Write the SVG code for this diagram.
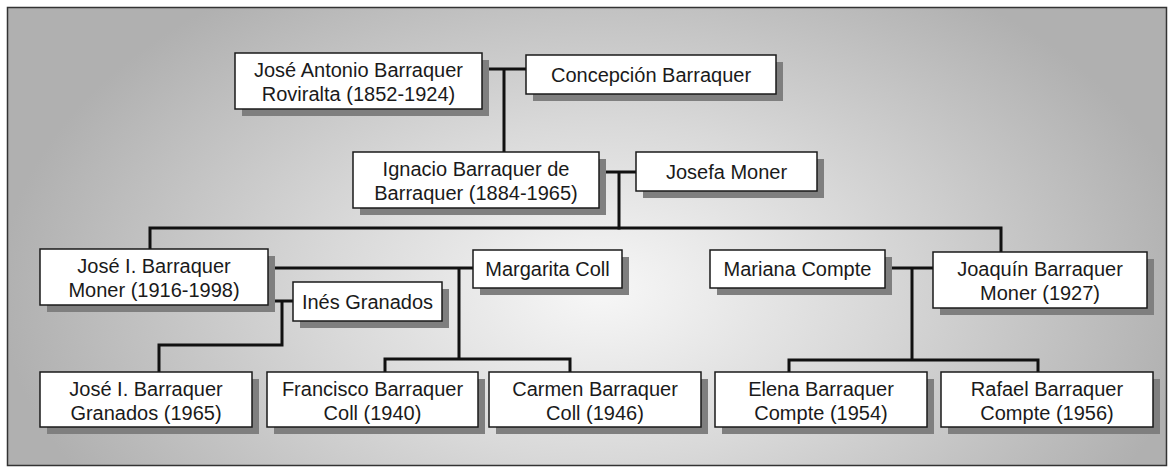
<svg xmlns="http://www.w3.org/2000/svg" width="1176" height="475" viewBox="0 0 1176 475">
  <defs>
    <radialGradient id="bg" gradientUnits="userSpaceOnUse" cx="600" cy="290" r="600" gradientTransform="translate(0 290) scale(1 0.62) translate(0 -290)">
      <stop offset="0" stop-color="#f7f7f7"/>
      <stop offset="0.45" stop-color="#d9d9d9"/>
      <stop offset="1" stop-color="#b0b0b0"/>
    </radialGradient>
    <style>
      .box { fill: #ffffff; stroke: #1a1a1a; stroke-width: 1.5; }
      .sh { fill: #7f7f7f; }
      .t { font-family: "Liberation Sans", Arial, sans-serif; font-size: 20px; fill: #1a1a1a; text-anchor: middle; }
      .ln { fill: none; stroke: #111111; stroke-width: 3; stroke-linecap: square; stroke-linejoin: miter; }
    </style>
  </defs>
  <rect x="0" y="0" width="1176" height="475" fill="#ffffff"/>
  <rect x="7.5" y="7.5" width="1159" height="458" fill="url(#bg)" stroke="#333333" stroke-width="1.5"/>

  <g id="connectors">
    <path class="ln" d="M482 69 H526 M504 69 V152"/>
    <path class="ln" d="M599 172 H636 M619 172 V228"/>
    <path class="ln" d="M150 249 V228 H1001 V252"/>
    <path class="ln" d="M268 268 H473 M459 268 V359 M385 372 V359 H570 V372"/>
    <path class="ln" d="M268 301 H293 M282 301 V345 H159 V372"/>
    <path class="ln" d="M885 268 H933 M912 268 V360 M789 372 V360 H1038 V372"/>
  </g>

  <g id="jose-antonio">
    <rect class="sh" x="242" y="60" width="247" height="56"/>
    <rect class="box" x="235" y="53" width="247" height="56"/>
    <text class="t" x="358.5" y="77">José Antonio Barraquer</text>
    <text class="t" x="358.5" y="101">Roviralta (1852-1924)</text>
  </g>
  <g id="concepcion">
    <rect class="sh" x="533" y="62" width="250" height="39"/>
    <rect class="box" x="526" y="55" width="250" height="39"/>
    <text class="t" x="651" y="81.5">Concepción Barraquer</text>
  </g>
  <g id="ignacio">
    <rect class="sh" x="360" y="159" width="246" height="56"/>
    <rect class="box" x="353" y="152" width="246" height="56"/>
    <text class="t" x="476" y="176">Ignacio Barraquer de</text>
    <text class="t" x="476" y="200">Barraquer (1884-1965)</text>
  </g>
  <g id="josefa">
    <rect class="sh" x="643" y="159" width="181" height="39"/>
    <rect class="box" x="636" y="152" width="181" height="39"/>
    <text class="t" x="726.5" y="178.5">Josefa Moner</text>
  </g>
  <g id="jose-i-moner">
    <rect class="sh" x="47" y="256" width="228" height="56"/>
    <rect class="box" x="40" y="249" width="228" height="56"/>
    <text class="t" x="154" y="273">José I. Barraquer</text>
    <text class="t" x="154" y="297">Moner (1916-1998)</text>
  </g>
  <g id="ines">
    <rect class="sh" x="300" y="289" width="149" height="39"/>
    <rect class="box" x="293" y="282" width="149" height="39"/>
    <text class="t" x="367.5" y="308.5">Inés Granados</text>
  </g>
  <g id="margarita">
    <rect class="sh" x="480" y="257" width="149" height="38"/>
    <rect class="box" x="473" y="250" width="149" height="38"/>
    <text class="t" x="547.5" y="276">Margarita Coll</text>
  </g>
  <g id="mariana">
    <rect class="sh" x="717" y="257" width="175" height="38"/>
    <rect class="box" x="710" y="250" width="175" height="38"/>
    <text class="t" x="797.5" y="276">Mariana Compte</text>
  </g>
  <g id="joaquin">
    <rect class="sh" x="940" y="259" width="214" height="56"/>
    <rect class="box" x="933" y="252" width="214" height="56"/>
    <text class="t" x="1040" y="276">Joaquín Barraquer</text>
    <text class="t" x="1040" y="300">Moner (1927)</text>
  </g>
  <g id="jose-i-granados">
    <rect class="sh" x="47" y="379" width="212" height="55"/>
    <rect class="box" x="40" y="372" width="212" height="55"/>
    <text class="t" x="146" y="396">José I. Barraquer</text>
    <text class="t" x="146" y="420">Granados (1965)</text>
  </g>
  <g id="francisco">
    <rect class="sh" x="274" y="379" width="211" height="55"/>
    <rect class="box" x="267" y="372" width="211" height="55"/>
    <text class="t" x="372.5" y="396">Francisco Barraquer</text>
    <text class="t" x="372.5" y="420">Coll (1940)</text>
  </g>
  <g id="carmen">
    <rect class="sh" x="496" y="379" width="212" height="55"/>
    <rect class="box" x="489" y="372" width="212" height="55"/>
    <text class="t" x="595" y="396">Carmen Barraquer</text>
    <text class="t" x="595" y="420">Coll (1946)</text>
  </g>
  <g id="elena">
    <rect class="sh" x="722" y="379" width="212" height="55"/>
    <rect class="box" x="715" y="372" width="212" height="55"/>
    <text class="t" x="821" y="396">Elena Barraquer</text>
    <text class="t" x="821" y="420">Compte (1954)</text>
  </g>
  <g id="rafael">
    <rect class="sh" x="948" y="379" width="212" height="55"/>
    <rect class="box" x="941" y="372" width="212" height="55"/>
    <text class="t" x="1047" y="396">Rafael Barraquer</text>
    <text class="t" x="1047" y="420">Compte (1956)</text>
  </g>
</svg>
